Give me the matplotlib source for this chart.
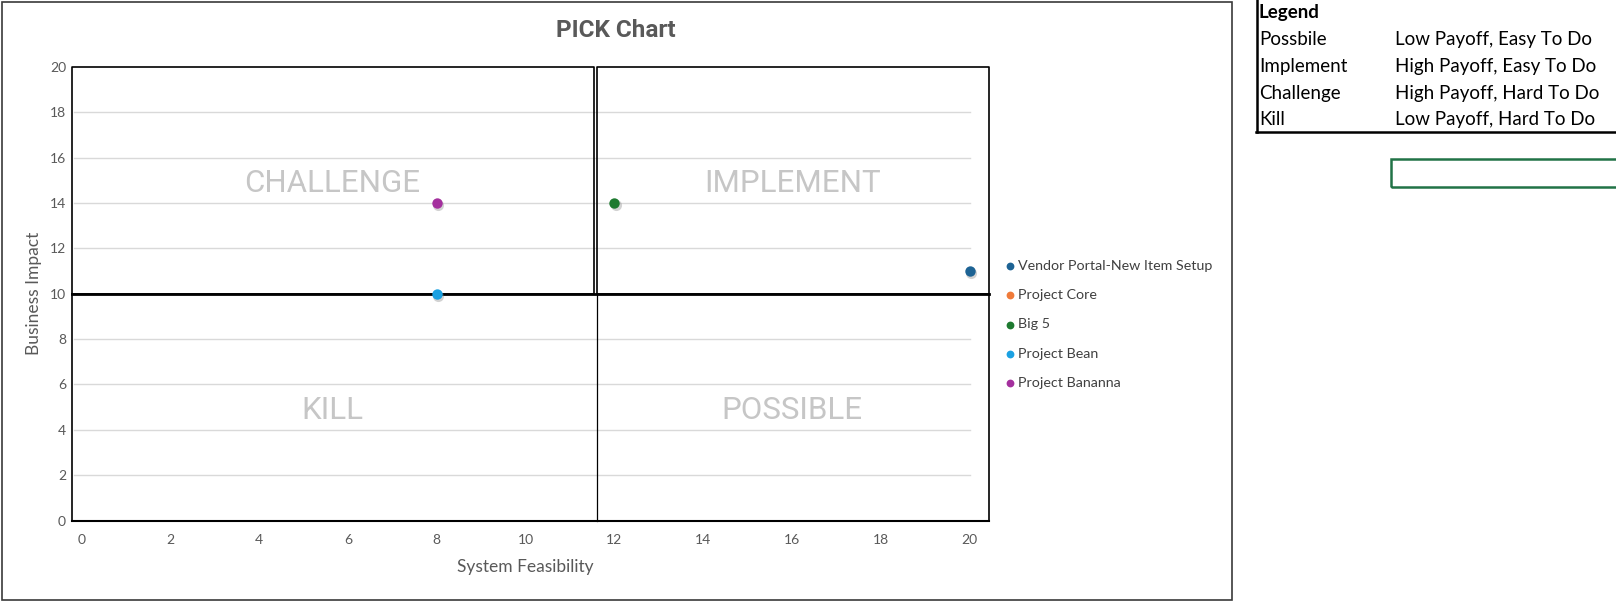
import matplotlib
matplotlib.use("Agg")
import matplotlib.pyplot as plt
from matplotlib import transforms
from matplotlib.lines import Line2D
from matplotlib.patches import Rectangle

# Project positions
projects = ["Vendor Portal-New Item Setup", "Project Core", "Big 5", "Project Bean", "Project Bananna"]
feasibility = [[20], [], [12], [8], [8]]
impact = [[11], [], [14], [10], [14]]
colors = ["#1D6394", "#F07B3A", "#1E7A30", "#1BA1E2", "#A4309E"]

quadrants = ["CHALLENGE", "IMPLEMENT", "KILL", "POSSIBLE"]
quad_x = [5.65, 16.0, 5.65, 16.0]
quad_y = [14.85, 14.85, 4.85, 4.85]

legend_rows = ["Possbile", "Implement", "Challenge", "Kill"]
legend_desc = ["Low Payoff, Easy To Do", "High Payoff, Easy To Do",
               "High Payoff, Hard To Do", "Low Payoff, Hard To Do"]

W, H = 1616, 606
fig = plt.figure(figsize=(W / 100, H / 100), dpi=100)

def fx(px):
    return px / W

def fy(py):
    return 1 - py / H

# plot area: data 0..20 on both axes
left, right, top, bottom = 81.4, 969.8, 67.0, 520.5
ax = fig.add_axes([fx(left), fy(bottom), fx(right - left), (bottom - top) / H])
ax.set_xlim(0, 20)
ax.set_ylim(0, 20)
for s in ax.spines.values():
    s.set_visible(False)

ax.set_xticks(range(0, 21, 2))
ax.set_yticks(range(0, 21, 2))
ax.tick_params(length=0, labelsize=10, labelcolor="#595959")
ax.tick_params(axis="y", pad=11)
ax.tick_params(axis="x", pad=10)
for lab in ax.get_xticklabels() + ax.get_yticklabels():
    lab.set_family("Lato")

# gridlines
for yv in range(2, 20, 2):
    ax.plot([-0.17, 20.0], [yv, yv], color="#D9D9D9", lw=1, zorder=1, clip_on=False)

# quadrant boxes
xl, xm1, xm2, xr = -0.21, 11.53, 11.6, 20.44
box_kw = dict(color="black", lw=1.2, clip_on=False, zorder=3)
ax.plot([xl, xm1, xm1, xl, xl], [10, 10, 20, 20, 10], **box_kw)
ax.plot([xm2, xr, xr, xm2, xm2], [10, 10, 20, 20, 10], **box_kw)
ax.plot([xl, xr], [10, 10], color="black", lw=2, clip_on=False, zorder=3)
ax.plot([xl, xr], [0, 0], color="black", lw=1.5, clip_on=False, zorder=3)
ax.plot([xl, xl], [0, 10], **box_kw)
ax.plot([xr, xr], [0, 10], **box_kw)
ax.plot([11.6, 11.6], [0, 10], color="black", lw=0.9, clip_on=False, zorder=3)

for name, qx, qy in zip(quadrants, quad_x, quad_y):
    ax.text(qx, qy, name, ha="center", va="center", fontsize=22.5,
            color="#C6C6C6", family="Roboto", zorder=2)

# points with a soft shadow
shadow = transforms.offset_copy(ax.transData, fig=fig, x=1.5, y=-2, units="dots")
for name, xs, ys, c in zip(projects, feasibility, impact, colors):
    ax.scatter(xs, ys, s=64, color="#808080", alpha=0.35, transform=shadow,
               linewidths=0, zorder=4, clip_on=False)
    ax.scatter(xs, ys, s=56, color=c, linewidths=0, zorder=5, label=name, clip_on=False)

leg = ax.legend(loc="upper left", bbox_to_anchor=(fx(1003), fy(260)),
                bbox_transform=fig.transFigure, frameon=False, fontsize=10.3,
                handletextpad=0.05, handlelength=1.0, labelspacing=1.2,
                markerscale=0.75, borderpad=0, borderaxespad=0)
for t in leg.get_texts():
    t.set_color("#404040")
    t.set_family("Lato")

ax.set_xlabel("System Feasibility", fontsize=12.5, color="#595959", family="Lato", labelpad=9)
ax.set_ylabel("Business Impact", fontsize=12.5, color="#595959", family="Lato", labelpad=6)

fig.text(fx(616), fy(30.5), "PICK Chart", ha="center", va="center", fontsize=17.5,
         fontweight="bold", color="#595959", family="Roboto")

# chart border
fig.patches.append(Rectangle((fx(2), fy(600)), fx(1230), (598) / H, transform=fig.transFigure,
                             fill=False, edgecolor="#3A3A3A", lw=1.2))

# side table
fig.text(fx(1259), fy(12.5), "Legend", ha="left", va="center", fontsize=13.5,
         fontweight="bold", color="black", family="Lato")
row_y = [39.5, 66.5, 93, 119.5]
for r, d, yy in zip(legend_rows, legend_desc, row_y):
    fig.text(fx(1259), fy(yy), r, ha="left", va="center", fontsize=13.5, color="black", family="Lato")
    fig.text(fx(1395), fy(yy), d, ha="left", va="center", fontsize=13.5, color="black", family="Lato")
fig.add_artist(Line2D([fx(1257), fx(1257)], [fy(0), fy(132)], color="black", lw=1.8))
fig.add_artist(Line2D([fx(1256), fx(1616)], [fy(132), fy(132)], color="black", lw=1.8))
fig.patches.append(Rectangle((fx(1391), fy(187)), fx(240), 28 / H, transform=fig.transFigure,
                             fill=False, edgecolor="#217346", lw=1.8))

fig.savefig("out.png", dpi=100)
